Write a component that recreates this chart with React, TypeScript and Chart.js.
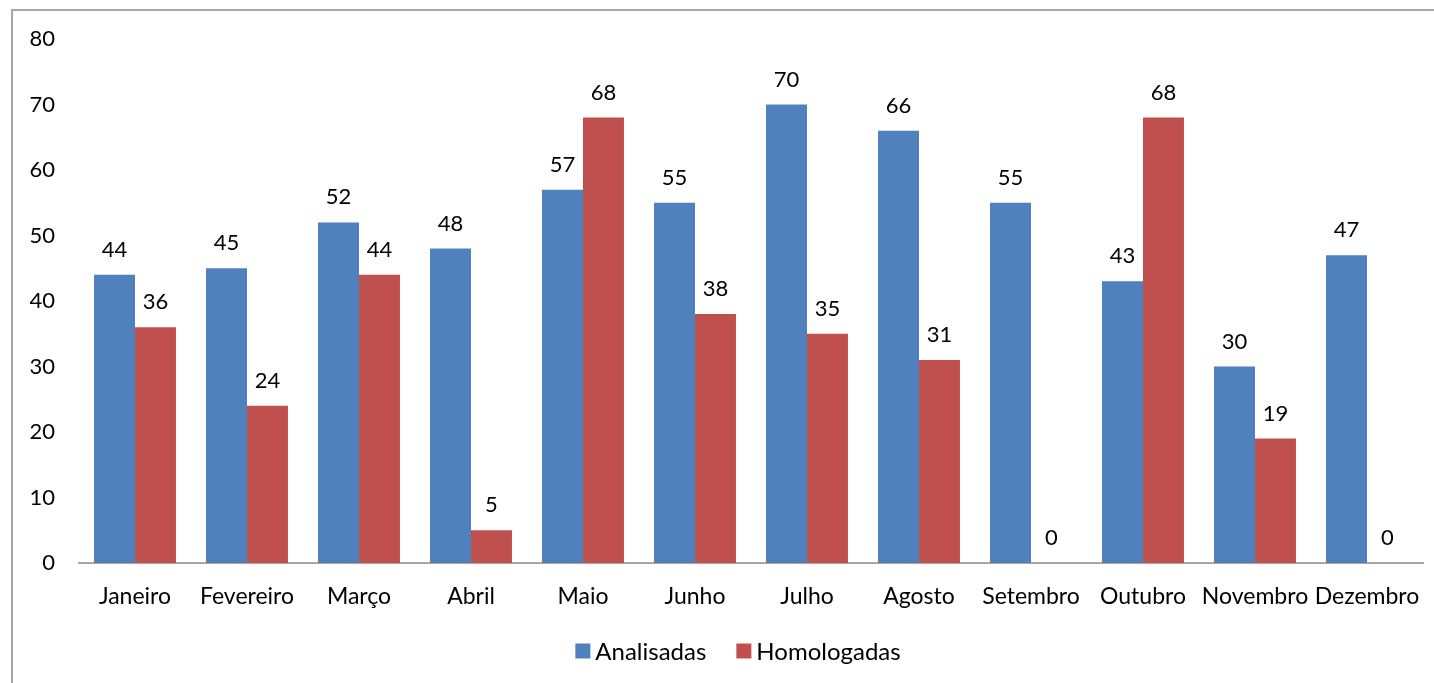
import React, { useEffect, useRef } from "react";
import { Chart, registerables } from "chart.js";

Chart.register(...registerables);

const months = ["Janeiro", "Fevereiro", "Março", "Abril", "Maio", "Junho", "Julho", "Agosto", "Setembro", "Outubro", "Novembro", "Dezembro"];
const analisadas = [44, 45, 52, 48, 57, 55, 70, 66, 55, 43, 30, 47];
const homologadas = [36, 24, 44, 5, 68, 38, 35, 31, 0, 68, 19, 0];
const seriesNames = ["Analisadas", "Homologadas"];
const seriesColors = ["#4F81BD", "#C0504D"];

const FONT = "Lato, 'Open Sans', sans-serif";

const valueLabels = {
  id: "valueLabels",
  afterDatasetsDraw(chart: any) {
    const ctx = chart.ctx;
    ctx.save();
    ctx.font = `22px ${FONT}`;
    ctx.fillStyle = "#000";
    ctx.textAlign = "center";
    ctx.textBaseline = "bottom";
    chart.data.datasets.forEach((ds: any, i: number) => {
      const meta = chart.getDatasetMeta(i);
      meta.data.forEach((bar: any, j: number) => {
        ctx.fillText(String(ds.data[j]), bar.x, bar.y - 14);
      });
    });
    ctx.restore();
  },
};

const customLegend = {
  id: "customLegend",
  afterDraw(chart: any) {
    const ctx = chart.ctx;
    ctx.save();
    ctx.font = `24px ${FONT}`;
    ctx.textBaseline = "middle";
    ctx.textAlign = "left";
    const box = 15;
    const gapText = 5;
    const gapItem = 30;
    const items = chart.data.datasets.map((ds: any) => ({ label: ds.label, color: ds.backgroundColor, w: ctx.measureText(ds.label).width }));
    const total = items.reduce((s: number, it: any) => s + box + gapText + it.w, 0) + gapItem * (items.length - 1);
    let x = (chart.chartArea.left + chart.chartArea.right) / 2 - total / 2 - 13;
    const y = 651;
    items.forEach((it: any) => {
      ctx.fillStyle = it.color;
      ctx.fillRect(x, y - box / 2, box, box);
      x += box + gapText;
      ctx.fillStyle = "#000";
      ctx.fillText(it.label, x, y + 1);
      x += it.w + gapItem;
    });
    ctx.restore();
  },
};

export default function App() {
  const ref = useRef<HTMLCanvasElement>(null);
  useEffect(() => {
    const chart = new Chart(ref.current!, {
      type: "bar",
      data: {
        labels: months,
        datasets: [
          { label: seriesNames[0], data: analisadas, backgroundColor: seriesColors[0], categoryPercentage: 0.732, barPercentage: 1 },
          { label: seriesNames[1], data: homologadas, backgroundColor: seriesColors[1], categoryPercentage: 0.732, barPercentage: 1 },
        ],
      },
      options: {
        animation: false,
        responsive: false,
        maintainAspectRatio: false,
        layout: { padding: { left: 0, right: 11, top: 39, bottom: 60 } },
        plugins: {
          legend: { display: false },
          tooltip: { enabled: false },
        },
        scales: {
          x: {
            grid: { display: false },
            border: { color: "#a6a6a6", width: 2 },
            ticks: { font: { size: 23, family: FONT }, color: "#000", padding: 12, maxRotation: 0, autoSkip: false },
            afterFit: (s: any) => { s.height = 60; s.paddingLeft = 0; s.paddingRight = 0; },
          },
          y: {
            min: 0,
            max: 80,
            grid: { display: false },
            border: { display: false },
            ticks: { stepSize: 10, font: { size: 22, family: FONT }, color: "#000", padding: 16 },
            afterFit: (s: any) => { s.width = 79; },
          },
        },
      },
      plugins: [valueLabels, customLegend],
    });
    return () => chart.destroy();
  }, []);
  return (
    <div style={{ position: "absolute", left: 0, top: 0, width: 1434, height: 683, background: "#fff", overflow: "hidden" }}>
      <div style={{ position: "absolute", left: 11, top: 9, width: 1440, height: 700, border: "2px solid #a6a6a6", boxSizing: "border-box" }} />
      <canvas ref={ref} width={1434} height={683} style={{ position: "absolute", left: 0, top: 0 }} />
    </div>
  );
}
